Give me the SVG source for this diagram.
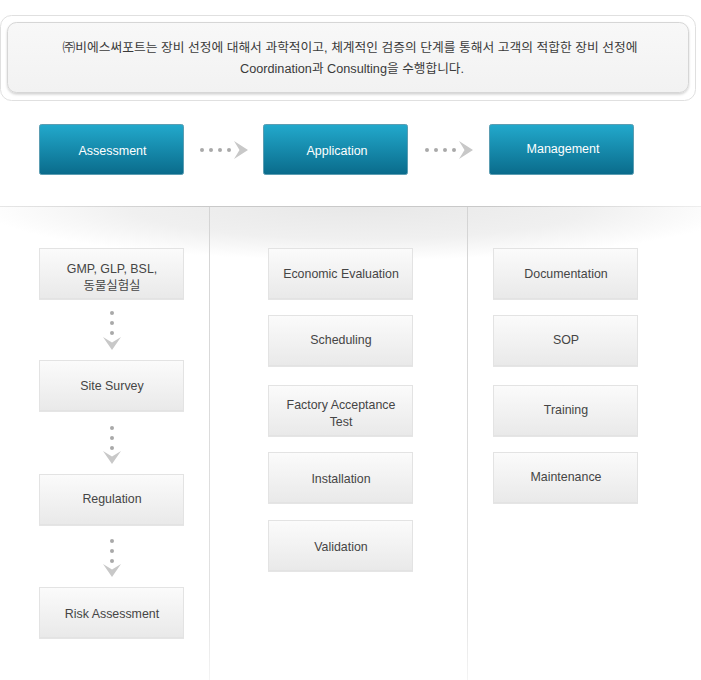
<svg xmlns="http://www.w3.org/2000/svg" width="701" height="680" viewBox="0 0 701 680">
<defs>
  <linearGradient id="btn" x1="0" y1="0" x2="0" y2="1">
    <stop offset="0" stop-color="#22a9cc"/>
    <stop offset="1" stop-color="#0a6b8b"/>
  </linearGradient>
  <linearGradient id="box" x1="0" y1="0" x2="0" y2="1">
    <stop offset="0" stop-color="#fbfbfb"/>
    <stop offset="1" stop-color="#e9e9e9"/>
  </linearGradient>
  <linearGradient id="banner" x1="0" y1="0" x2="0" y2="1">
    <stop offset="0" stop-color="#f8f8f8"/>
    <stop offset="1" stop-color="#f2f2f2"/>
  </linearGradient>
  <linearGradient id="hline" gradientUnits="userSpaceOnUse" x1="0" y1="0" x2="701" y2="0">
    <stop offset="0" stop-color="#e6e6e6"/>
    <stop offset="0.3" stop-color="#c9c9c9"/>
    <stop offset="0.7" stop-color="#c9c9c9"/>
    <stop offset="1" stop-color="#eeeeee"/>
  </linearGradient>
  <linearGradient id="vline" gradientUnits="userSpaceOnUse" x1="0" y1="207" x2="0" y2="680">
    <stop offset="0" stop-color="#d4d4d4"/>
    <stop offset="0.85" stop-color="#e2e2e2"/>
    <stop offset="1" stop-color="#f4f4f4"/>
  </linearGradient>
  <radialGradient id="shade" gradientUnits="userSpaceOnUse" cx="360" cy="207" r="380" gradientTransform="translate(0 207) scale(1 0.14) translate(0 -207)">
    <stop offset="0" stop-color="#e8e8e8"/>
    <stop offset="0.6" stop-color="#f0f0f0"/>
    <stop offset="1" stop-color="#ffffff"/>
  </radialGradient>
  <filter id="bsh" x="-5%" y="-10%" width="110%" height="130%">
    <feDropShadow dx="0" dy="1.5" stdDeviation="1.2" flood-color="#000" flood-opacity="0.18"/>
  </filter>
  <filter id="nsh" x="-5%" y="-10%" width="110%" height="130%">
    <feDropShadow dx="0" dy="1" stdDeviation="0.6" flood-color="#000" flood-opacity="0.10"/>
  </filter>
</defs>
<style>
  .t { font-family: "Liberation Sans", "Noto Sans CJK KR", Arial, sans-serif; }
  .btn rect { fill: url(#btn); stroke: #5b9db2; stroke-width: 1; }
  .btn text { fill: #ffffff; font-size: 12.5px; text-anchor: middle; }
  .node rect { fill: url(#box); stroke: #e3e3e3; stroke-width: 1; filter: url(#nsh); }
  .node text { fill: #454545; font-size: 12.4px; text-anchor: middle; }
  .dot { fill: #a9a9a9; }
  .head { fill: #c8c8c8; }
</style>

<rect width="701" height="680" fill="#ffffff"/>

<!-- banner -->
<g id="banner-box">
  <rect x="0.5" y="15.5" width="695" height="85" rx="11" fill="#ffffff" stroke="#e0e0e0"/>
  <rect x="7.5" y="22.5" width="681" height="70" rx="9" fill="url(#banner)" stroke="#d6d6d6" filter="url(#bsh)"/>
  <text class="t" x="350" y="52" font-size="12.5" fill="#3a3a3a" text-anchor="middle" textLength="575" lengthAdjust="spacingAndGlyphs">㈜비에스써포트는 장비 선정에 대해서 과학적이고, 체계적인 검증의 단계를 통해서 고객의 적합한 장비 선정에</text>
  <text class="t" x="352" y="73" font-size="12.5" fill="#3a3a3a" text-anchor="middle" textLength="224" lengthAdjust="spacingAndGlyphs">Coordination과 Consulting을 수행합니다.</text>
</g>

<!-- background shading and dividers -->
<g id="panel">
  <rect x="0" y="207" width="701" height="60" fill="url(#shade)"/>
  <line x1="0" y1="206.5" x2="701" y2="206.5" stroke="url(#hline)" stroke-width="1"/>
  <line x1="209.5" y1="207" x2="209.5" y2="680" stroke="url(#vline)" stroke-width="1"/>
  <line x1="467.5" y1="207" x2="467.5" y2="680" stroke="url(#vline)" stroke-width="1"/>
</g>

<!-- phase buttons -->
<g id="assessment" class="btn t">
  <rect x="39.5" y="124.5" width="144" height="50" rx="2"/>
  <text x="112.5" y="155">Assessment</text>
</g>
<g id="application" class="btn t">
  <rect x="263.5" y="124.5" width="144" height="50" rx="2"/>
  <text x="337" y="155">Application</text>
</g>
<g id="management" class="btn t">
  <rect x="489.5" y="124.5" width="144" height="50" rx="2"/>
  <text x="563" y="153">Management</text>
</g>

<!-- connectors -->
<g id="connectors">
  <circle class="dot" cx="202" cy="150" r="2"/>
  <circle class="dot" cx="211" cy="150" r="2"/>
  <circle class="dot" cx="220" cy="150" r="2"/>
  <circle class="dot" cx="229" cy="150" r="2"/>
  <polygon class="head" points="234,141 248,150 234,159 239.5,150"/>

  <circle class="dot" cx="427" cy="150" r="2"/>
  <circle class="dot" cx="436" cy="150" r="2"/>
  <circle class="dot" cx="445" cy="150" r="2"/>
  <circle class="dot" cx="454" cy="150" r="2"/>
  <polygon class="head" points="459,141 473,150 459,159 464.5,150"/>

  <circle class="dot" cx="112" cy="313" r="2"/>
  <circle class="dot" cx="112" cy="323" r="2"/>
  <circle class="dot" cx="112" cy="333" r="2"/>
  <polygon class="head" points="103,337 112,350 121,337 112,342.5"/>

  <circle class="dot" cx="112" cy="428" r="2"/>
  <circle class="dot" cx="112" cy="438" r="2"/>
  <circle class="dot" cx="112" cy="448" r="2"/>
  <polygon class="head" points="103,451 112,464 121,451 112,456.5"/>

  <circle class="dot" cx="112" cy="541" r="2"/>
  <circle class="dot" cx="112" cy="551" r="2"/>
  <circle class="dot" cx="112" cy="561" r="2"/>
  <polygon class="head" points="103,564 112,577 121,564 112,569.5"/>
</g>

<!-- column 1 -->
<g id="gmp" class="node t">
  <rect x="39.5" y="248.5" width="144" height="50"/>
  <text x="112" y="272.5">GMP, GLP, BSL,</text>
  <text x="112" y="289.5">동물실험실</text>
</g>
<g id="site-survey" class="node t">
  <rect x="39.5" y="360.5" width="144" height="50"/>
  <text x="112" y="389.5">Site Survey</text>
</g>
<g id="regulation" class="node t">
  <rect x="39.5" y="474.5" width="144" height="50"/>
  <text x="112" y="503">Regulation</text>
</g>
<g id="risk-assessment" class="node t">
  <rect x="39.5" y="587.5" width="144" height="50"/>
  <text x="112" y="617.5">Risk Assessment</text>
</g>

<!-- column 2 -->
<g id="economic-evaluation" class="node t">
  <rect x="268.5" y="248.5" width="144" height="50"/>
  <text x="341" y="278">Economic Evaluation</text>
</g>
<g id="scheduling" class="node t">
  <rect x="268.5" y="315.5" width="144" height="50"/>
  <text x="341" y="344">Scheduling</text>
</g>
<g id="fat" class="node t">
  <rect x="268.5" y="385.5" width="144" height="50"/>
  <text x="341" y="408.5">Factory Acceptance</text>
  <text x="341" y="425.5">Test</text>
</g>
<g id="installation" class="node t">
  <rect x="268.5" y="452.5" width="144" height="50"/>
  <text x="341" y="482.5">Installation</text>
</g>
<g id="validation" class="node t">
  <rect x="268.5" y="520.5" width="144" height="50"/>
  <text x="341" y="550.5">Validation</text>
</g>

<!-- column 3 -->
<g id="documentation" class="node t">
  <rect x="493.5" y="248.5" width="144" height="50"/>
  <text x="566" y="277.5">Documentation</text>
</g>
<g id="sop" class="node t">
  <rect x="493.5" y="315.5" width="144" height="50"/>
  <text x="566" y="344">SOP</text>
</g>
<g id="training" class="node t">
  <rect x="493.5" y="385.5" width="144" height="50"/>
  <text x="566" y="414">Training</text>
</g>
<g id="maintenance" class="node t">
  <rect x="493.5" y="452.5" width="144" height="50"/>
  <text x="566" y="481">Maintenance</text>
</g>
</svg>
